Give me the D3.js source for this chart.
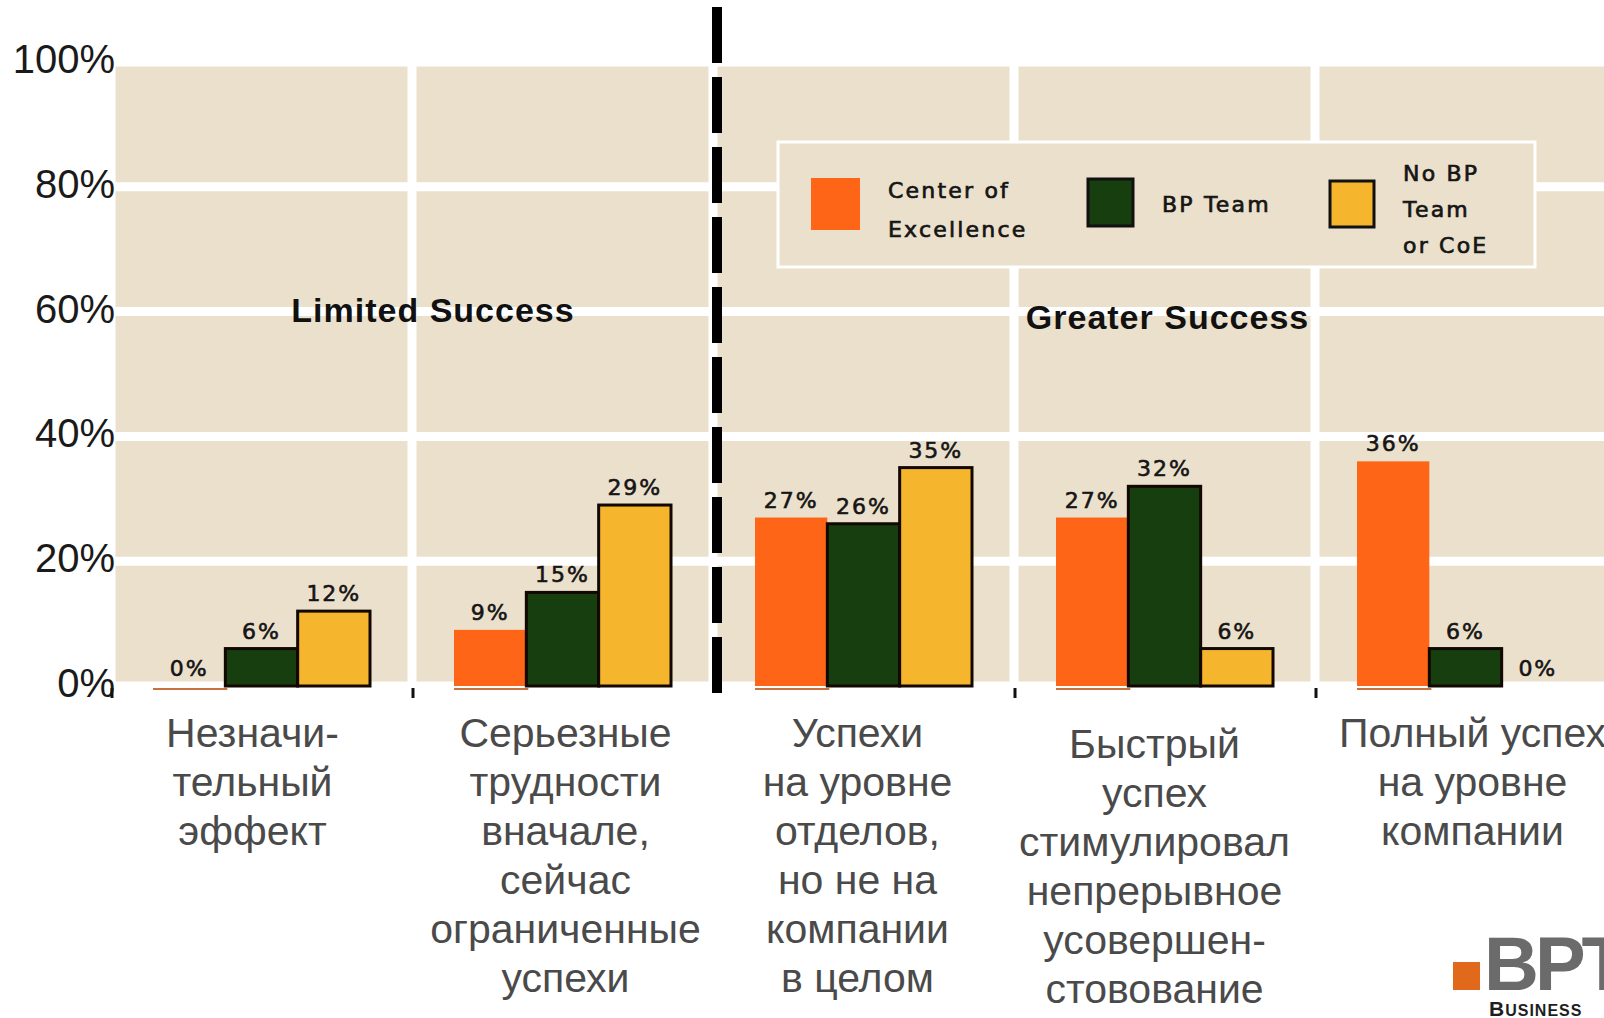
<!DOCTYPE html>
<html>
<head>
<meta charset="utf-8">
<script src="https://cdn.jsdelivr.net/npm/d3@7/dist/d3.min.js"></script>
<style>
  body { margin: 0; background: #fff; }
  #chart { width: 1604px; height: 1018px; overflow: hidden; }
</style>
</head>
<body>
<div id="chart"></div>
<script>
// --- data ---
var categoryLines = [
    ["Незначи-", "тельный", "эффект"],
    ["Серьезные", "трудности", "вначале,", "сейчас", "ограниченные", "успехи"],
    ["Успехи", "на уровне", "отделов,", "но не на", "компании", "в целом"],
    ["Быстрый", "успех", "стимулировал", "непрерывное", "усовершен-", "стовование"],
    ["Полный успех", "на уровне", "компании"]
];
var seriesNames = ["Center of Excellence", "BP Team", "No BP Team or CoE"];
var legendLines = [["Center of", "Excellence"], ["BP Team"], ["No BP", "Team", "or CoE"]];
var coeValues = [0, 9, 27, 27, 36];
var bpTeamValues = [6, 15, 26, 32, 6];
var noTeamValues = [12, 29, 35, 6, 0];
var yTicks = [0, 20, 40, 60, 80, 100];
var zoneLabels = ["Limited Success", "Greater Success"];

var colors = ["#ff6516", "#173e0f", "#f5b52d"];
var beige = "#ebe0cc";
// horizontal nudge of each category caption from its band centre
var captionShift = [-9, 3, -6, -10, 7];

var width = 1604, height = 1018;
var categories = categoryLines.map(function (l) { return l.join(" "); });
var series = [coeValues, bpTeamValues, noTeamValues];

var x = d3.scaleBand()
    .domain(categories)
    .range([111, 111 + 301 * categories.length])
    .padding(0);

var x1 = d3.scaleBand()
    .domain(seriesNames)
    .range([42, 259])
    .padding(0);

var y = d3.scaleLinear()
    .domain([0, 100])
    .range([686, 62]);

var svg = d3.select("#chart").append("svg")
    .attr("width", width)
    .attr("height", height);

// plot background
svg.append("rect")
    .attr("x", x.range()[0])
    .attr("y", y(100))
    .attr("width", width - x.range()[0])
    .attr("height", y(0) - y(100))
    .attr("fill", beige);

// white grid
svg.selectAll(".hgrid")
    .data(yTicks)
    .enter().append("line")
    .attr("x1", x.range()[0])
    .attr("x2", width)
    .attr("y1", function (d) { return y(d); })
    .attr("y2", function (d) { return y(d); })
    .attr("stroke", "#fff")
    .attr("stroke-width", 9);

svg.selectAll(".vgrid")
    .data(categories)
    .enter().append("line")
    .attr("x1", function (d) { return x(d); })
    .attr("x2", function (d) { return x(d); })
    .attr("y1", y(100))
    .attr("y2", y(0))
    .attr("stroke", "#fff")
    .attr("stroke-width", 9);

// y axis labels
svg.selectAll(".ylab")
    .data(yTicks)
    .enter().append("text")
    .attr("x", 115)
    .attr("y", function (d) { return y(d) + 11; })
    .attr("text-anchor", "end")
    .style("font-family", "'Liberation Sans', Arial, sans-serif")
    .style("font-size", "40px")
    .attr("fill", "#1a1a1a")
    .text(function (d) { return d + "%"; });

// zone labels
svg.append("text")
    .attr("x", x(categories[1]) + 21)
    .attr("y", y(58.3))
    .attr("text-anchor", "middle")
    .style("font-family", "'Liberation Sans', Arial, sans-serif")
    .style("font-size", "34px")
    .style("font-weight", "bold")
    .style("letter-spacing", "1px")
    .attr("fill", "#111")
    .text(zoneLabels[0]);

svg.append("text")
    .attr("x", x(categories[3]) + x.bandwidth() / 2 + 3)
    .attr("y", y(57.2))
    .attr("text-anchor", "middle")
    .style("font-family", "'Liberation Sans', Arial, sans-serif")
    .style("font-size", "34px")
    .style("font-weight", "bold")
    .style("letter-spacing", "1px")
    .attr("fill", "#111")
    .text(zoneLabels[1]);

// legend
var legend = svg.append("g");
legend.append("rect")
    .attr("x", 778).attr("y", 142)
    .attr("width", 757).attr("height", 125)
    .attr("fill", beige)
    .attr("stroke", "#fff")
    .attr("stroke-width", 3);

var legendPos = [
    { sx: 811, sy: 178, sw: 49, sh: 52, tx: 888, ty: 198 },
    { sx: 1088, sy: 179, sw: 45, sh: 47, tx: 1162, ty: 212 },
    { sx: 1330, sy: 181, sw: 44, sh: 46, tx: 1403, ty: 181 }
];
seriesNames.forEach(function (s, i) {
    var p = legendPos[i];
    legend.append("rect")
        .attr("x", p.sx).attr("y", p.sy)
        .attr("width", p.sw).attr("height", p.sh)
        .attr("fill", colors[i])
        .attr("stroke", i === 0 ? "none" : "#111")
        .attr("stroke-width", 3);
    legend.append("text")
        .attr("x", p.tx)
        .attr("y", p.ty)
        .style("font-family", "'DejaVu Sans', Verdana, sans-serif")
        .style("font-size", "22px")
        .style("letter-spacing", "2.2px")
        .attr("fill", "#151515")
        .attr("stroke", "#151515")
        .attr("stroke-width", 0.7)
        .selectAll("tspan")
        .data(legendLines[i])
        .enter().append("tspan")
        .attr("x", p.tx)
        .attr("dy", function (d, j) { return j === 0 ? 0 : (i === 0 ? 39 : 36); })
        .text(function (d) { return d; });
});

// bars
var groups = svg.selectAll(".grp")
    .data(categories)
    .enter().append("g")
    .attr("class", "grp")
    .attr("transform", function (d) { return "translate(" + x(d) + ",0)"; });

groups.each(function (cat, ci) {
    var g = d3.select(this);
    var vals = seriesNames.map(function (s, si) {
        return { name: s, si: si, value: series[si][ci] };
    });

    g.selectAll("rect")
        .data(vals.filter(function (d) { return d.si === 0 || d.value > 0; }))
        .enter().append("rect")
        .attr("x", function (d) { return x1(d.name); })
        .attr("y", function (d) { return y(d.value); })
        .attr("width", x1.bandwidth())
        .attr("height", function (d) { return y(0) - y(d.value); })
        .attr("fill", function (d) { return colors[d.si]; })
        .attr("stroke", function (d) { return d.si === 0 ? "none" : "#120800"; })
        .attr("stroke-width", 3);

    // thin line under the orange bar
    g.append("line")
        .attr("x1", x1(seriesNames[0]))
        .attr("x2", x1(seriesNames[0]) + x1.bandwidth() + 2)
        .attr("y1", y(0) + 3)
        .attr("y2", y(0) + 3)
        .attr("stroke", "#c8733f")
        .attr("stroke-width", 2);

    g.selectAll(".val")
        .data(vals)
        .enter().append("text")
        .attr("x", function (d) { return x1(d.name) + x1.bandwidth() / 2; })
        .attr("y", function (d) { return y(d.value) - 10; })
        .attr("text-anchor", "middle")
        .style("font-family", "'DejaVu Sans', Verdana, sans-serif")
        .style("font-size", "22px")
        .style("letter-spacing", "2px")
        .attr("fill", "#151515")
        .attr("stroke", "#151515")
        .attr("stroke-width", 0.6)
        .text(function (d) { return d.value + "%"; });

    // category caption
    var cx = x.bandwidth() / 2 + captionShift[ci];
    g.append("text")
        .attr("x", cx)
        .attr("y", ci === 3 ? 758 : 747)
        .attr("text-anchor", "middle")
        .style("font-family", "'Liberation Sans', Arial, sans-serif")
        .style("font-size", "41px")
        .attr("fill", "#4a4a4a")
        .selectAll("tspan")
        .data(categoryLines[ci])
        .enter().append("tspan")
        .attr("x", cx)
        .attr("dy", function (d, j) { return j === 0 ? 0 : 49; })
        .text(function (d) { return d; });
});

// small ticks under the baseline
svg.selectAll(".tick")
    .data(categories.filter(function (d, i) { return i !== 2; }))
    .enter().append("line")
    .attr("x1", function (d) { return x(d) + 1; })
    .attr("x2", function (d) { return x(d) + 1; })
    .attr("y1", y(0) + 2)
    .attr("y2", y(0) + 12)
    .attr("stroke", "#111")
    .attr("stroke-width", 3);

// dashed divider between limited and greater success
svg.append("line")
    .attr("x1", x(categories[2]) + 4)
    .attr("x2", x(categories[2]) + 4)
    .attr("y1", 7)
    .attr("y2", y(0) + 10)
    .attr("stroke", "#000")
    .attr("stroke-width", 10)
    .attr("stroke-dasharray", "56,14");

// logo
var logo = svg.append("g");
logo.append("rect")
    .attr("x", 1453).attr("y", 962)
    .attr("width", 27).attr("height", 28)
    .attr("fill", "#e0691c");
logo.append("text")
    .attr("x", 1484).attr("y", 990)
    .style("font-family", "'Liberation Sans', Arial, sans-serif")
    .style("font-size", "76px")
    .style("font-weight", "bold")
    .style("letter-spacing", "-4px")
    .attr("fill", "#6b6b6b")
    .text("BPT");
var biz = logo.append("text")
    .attr("x", 1489).attr("y", 1016)
    .style("font-family", "'Liberation Sans', Arial, sans-serif")
    .style("font-weight", "bold")
    .style("letter-spacing", "1px")
    .attr("fill", "#1e1e1e");
biz.append("tspan").style("font-size", "21px").text("B");
biz.append("tspan").style("font-size", "16px").text("USINESS");
</script>
</body>
</html>
